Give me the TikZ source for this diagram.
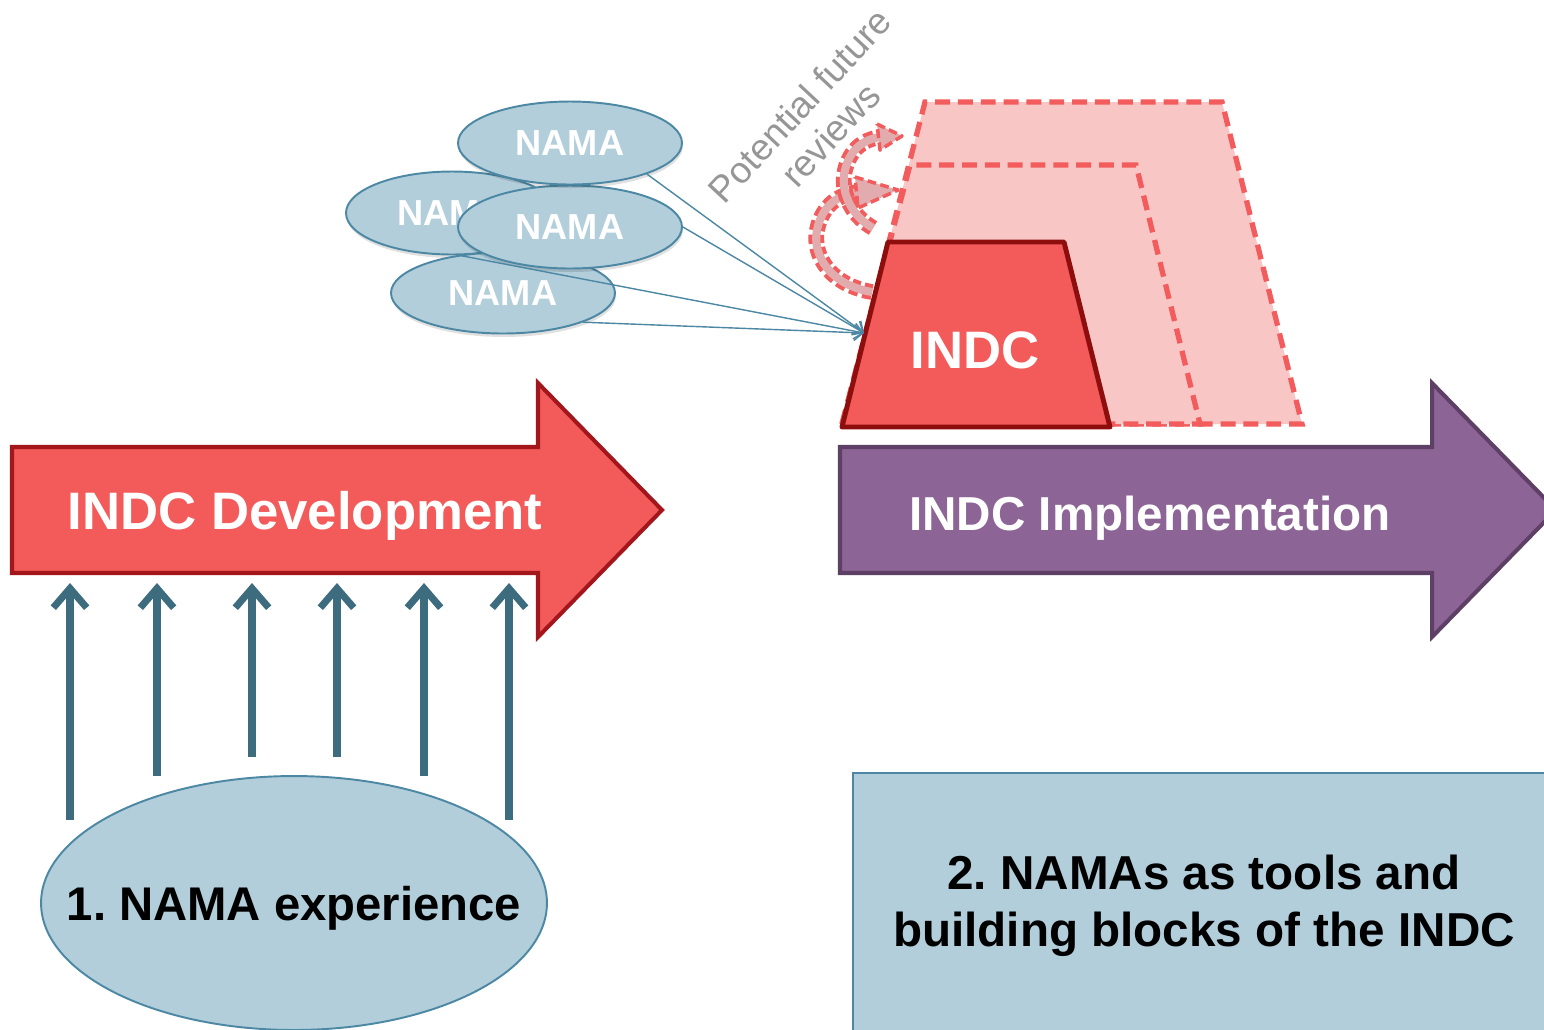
\documentclass[tikz,border=0pt]{standalone}
\usepackage{fontspec}
\setmainfont{Liberation Sans}
\frenchspacing
\usetikzlibrary{arrows.meta,shapes.geometric,shadows}
\definecolor{redfill}{RGB}{243,91,91}
\definecolor{redline}{RGB}{163,22,28}
\definecolor{indcline}{RGB}{142,14,14}
\definecolor{pinkfill}{RGB}{249,198,198}
\definecolor{dashred}{RGB}{242,92,92}
\definecolor{loopfill}{RGB}{226,172,174}
\definecolor{purplefill}{RGB}{140,100,149}
\definecolor{purpleline}{RGB}{94,64,102}
\definecolor{namafill}{RGB}{178,206,219}
\definecolor{namaline}{RGB}{76,136,163}
\definecolor{uparrow}{RGB}{61,108,127}
\definecolor{reviewgray}{RGB}{150,150,150}
\begin{document}
\begin{tikzpicture}[x=0.02cm,y=-0.02cm,
    nama/.style={ellipse,draw=namaline,fill=namafill,line width=1.1pt,inner sep=0pt,
      minimum width=4.48cm,minimum height=1.66cm,text=white,
      font=\fontsize{20.6}{24}\selectfont\bfseries,
      general shadow={fill=black,opacity=.12,shadow xshift=0.5pt,shadow yshift=-2pt}},
    bigtext/.style={text=white,font=\fontsize{30}{36}\selectfont\bfseries},
    futurebox/.style={fill=pinkfill,draw=dashred,line width=3pt,dash pattern=on 8.5pt off 4.5pt,line join=miter},
    loopband/.style={draw=dashred,line width=9pt,dash pattern=on 5pt off 2.5pt},
    loopinner/.style={draw=loopfill,line width=4.6pt},
    loophead/.style={fill=loopfill,draw=dashred,line width=2pt,dash pattern=on 5pt off 2.5pt,line join=round},
    uparr/.style={draw=uparrow,line width=4pt,-{Straight Barb[length=11pt,width=19pt]}},
    feed/.style={draw=namaline,line width=0.8pt,-{Straight Barb[length=5pt,width=9pt]}}]
  \useasboundingbox[fill=white] (0,0) rectangle (1544,1029);

  % development arrow
  \draw[fill=redfill,draw=redline,line width=2.3pt,line join=miter]
    (12,447) -- (538,447) -- (538,383) -- (662,510) -- (538,637) -- (538,573) -- (12,573) -- cycle;
  \node[bigtext] (dev) at (305,516) {INDC Development};

  % implementation arrow
  \draw[fill=purplefill,draw=purpleline,line width=2.3pt,line join=miter]
    (840,447) -- (1432,447) -- (1432,383) -- (1556,510) -- (1432,637) -- (1432,573) -- (840,573) -- cycle;
  \node[bigtext,font=\fontsize{27.1}{32}\selectfont\bfseries] (impl) at (1150,518) {INDC Implementation};

  % experience
  \node[ellipse,draw=namaline,fill=namafill,line width=1.1pt,inner sep=0pt,
    minimum width=10.12cm,minimum height=5.08cm] (exp) at (294,903) {};
  \node[font=\fontsize{26.9}{32}\selectfont\bfseries] (explabel) at (294,908) {1. NAMA experience};
  \foreach \x/\yb [count=\i] in {70/820,157/776,252/757,337/757,424/776,509/820} {
    \coordinate (foot\i) at (\x,\yb);
    \coordinate (tip\i) at (\x,583);
    \draw[uparr] (foot\i) -- (tip\i);
  }

  % building blocks
  \node[draw=namaline,fill=namafill,line width=1.1pt,minimum width=14.5cm,minimum height=5.6cm,
    anchor=north west] (tools) at (852,772) {};
  \node[align=center,font=\fontsize{27.1}{32.3}\selectfont\bfseries] (toolslabel) at (1204,906)
    {2. NAMAs as tools and\\building blocks of the INDC};

  % future INDCs
  \draw[futurebox] (842,424) -- (925,102) -- (1222,102) -- (1302,424) -- cycle;
  \draw[futurebox] (842,424) -- (910,165) -- (1136,165) -- (1200,424) -- cycle;

  % review loops
  \draw[loopband] (872,292) .. controls (830,285) and (812,255) .. (817,230)
    .. controls (822,205) and (840,193) .. (860,192);
  \draw[loopinner] (872,292) .. controls (830,285) and (812,255) .. (817,230)
    .. controls (822,205) and (840,193) .. (860,192);
  \draw[loophead] (855,177) -- (898,190) -- (858,208) -- cycle;
  \draw[loopband] (873,228) .. controls (850,215) and (840,190) .. (845,170)
    .. controls (850,150) and (862,140) .. (880,137);
  \draw[loopinner] (873,228) .. controls (850,215) and (840,190) .. (845,170)
    .. controls (850,150) and (862,140) .. (880,137);
  \draw[loophead] (877,124) -- (902,136) -- (880,150) -- cycle;
  \node[rotate=47,text=reviewgray,align=center,font=\fontsize{21}{24}\selectfont] (review)
    at (815,120) {Potential future\\reviews};

  % current INDC
  \draw[fill=redfill,draw=indcline,line width=2.8pt,line join=round]
    (842,427) -- (888,242) -- (1064,242) -- (1110,427) -- cycle;
  \node[bigtext] (indc) at (975,350) {INDC};
  \coordinate (indcin) at (864,333);

  % NAMAs
  \node[nama,minimum width=4.24cm] (nama2) at (452,213) {NAMA};
  \node[nama,minimum height=1.62cm] (nama4) at (503,293) {NAMA};
  \node[nama] (nama3) at (570,227) {NAMA};
  \node[nama] (nama1) at (570,143) {NAMA};
  \draw[feed] (nama1.-22) -- (indcin);
  \draw[feed] (nama3.east) -- (indcin);
  \draw[feed] (nama2.-80) -- (indcin);
  \draw[feed] (nama4.-20) -- (indcin);
\end{tikzpicture}
\end{document}
